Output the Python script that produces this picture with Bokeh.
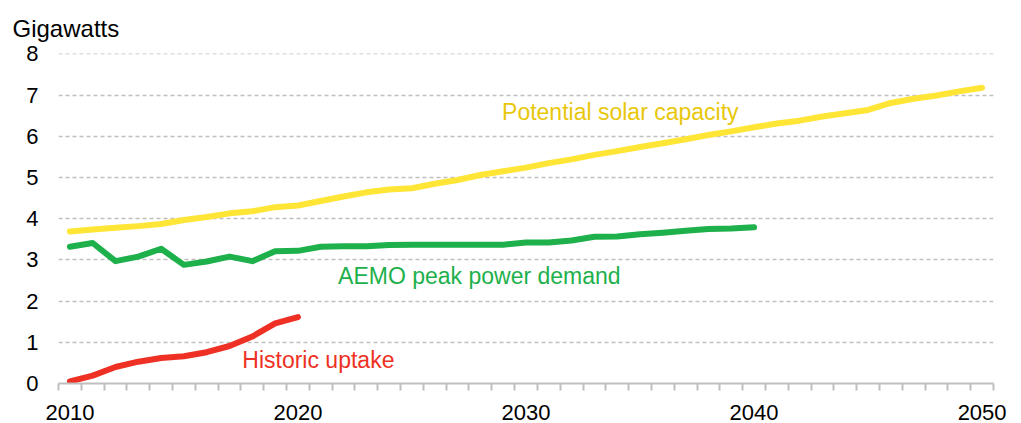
from bokeh.plotting import figure
from bokeh.models import FixedTicker, Range1d
from bokeh.core.properties import value
from bokeh.embed import file_html
from bokeh.resources import INLINE

years_solar = list(range(2010, 2051))
solar = [3.69, 3.74, 3.78, 3.82, 3.87, 3.97, 4.04, 4.13, 4.18, 4.28, 4.32,
         4.43, 4.54, 4.64, 4.71, 4.74, 4.85, 4.94, 5.06, 5.15, 5.24,
         5.35, 5.44, 5.55, 5.64, 5.74, 5.83, 5.93, 6.03, 6.12, 6.22,
         6.31, 6.38, 6.48, 6.56, 6.64, 6.81, 6.91, 6.99, 7.09, 7.18]

years_aemo = list(range(2010, 2041))
aemo = [3.32, 3.41, 2.97, 3.08, 3.27, 2.88, 2.96, 3.08, 2.97, 3.21, 3.22,
        3.32, 3.33, 3.33, 3.36, 3.37, 3.37, 3.37, 3.37, 3.37, 3.42,
        3.42, 3.47, 3.56, 3.57, 3.62, 3.66, 3.71, 3.75, 3.76, 3.79]

years_hist = list(range(2010, 2021))
hist = [0.05, 0.19, 0.40, 0.53, 0.62, 0.66, 0.76, 0.91, 1.14, 1.46, 1.61]

x_labels = [2010, 2020, 2030, 2040, 2050]
y_ticks = [0, 1, 2, 3, 4, 5, 6, 7, 8]

FONT = "Liberation Sans"
YELLOW = "#FFE535"
YELLOW_TXT = "#E8C70A"
GREEN = "#1DB04B"
RED = "#EE3124"
GRID = "#BFBFBF"

p = figure(width=1013, height=423, output_backend="svg", toolbar_location=None,
           x_range=Range1d(2009.5, 2050.5), y_range=Range1d(0, 8.01),
           min_border_left=58, min_border_right=20, min_border_top=53, min_border_bottom=40)
p.outline_line_color = None
p.background_fill_color = "white"
p.border_fill_color = "white"

p.title.text = "Gigawatts"
p.title.align = "left"
p.title.vertical_align = "top"
p.title.offset = -46
p.title.standoff = 19
p.title.text_font = FONT
p.title.text_font_size = "24px"
p.title.text_font_style = "normal"
p.title.text_color = "#000000"

# x axis
p.xaxis.ticker = FixedTicker(ticks=x_labels, minor_ticks=[y + 0.5 for y in range(2009, 2051)])
p.xaxis.axis_line_color = GRID
p.xaxis.axis_line_width = 2
p.xaxis.major_tick_line_color = None
p.xaxis.major_tick_out = 0
p.xaxis.major_tick_in = 0
p.xaxis.minor_tick_line_color = GRID
p.xaxis.minor_tick_line_width = 2
p.xaxis.minor_tick_out = 7
p.xaxis.minor_tick_in = 0
p.xaxis.major_label_standoff = 14
p.xaxis.major_label_text_font = FONT
p.xaxis.major_label_text_font_size = "22px"
p.xaxis.major_label_text_color = "#000000"

# y axis
p.yaxis.ticker = FixedTicker(ticks=y_ticks)
p.yaxis.axis_line_color = None
p.yaxis.major_tick_line_color = None
p.yaxis.minor_tick_line_color = None
p.yaxis.major_tick_out = 0
p.yaxis.major_tick_in = 0
p.yaxis.major_label_standoff = 20
p.yaxis.major_label_text_font = FONT
p.yaxis.major_label_text_font_size = "22px"
p.yaxis.major_label_text_color = "#000000"

p.xgrid.grid_line_color = None
p.ygrid.grid_line_color = GRID
p.ygrid.grid_line_dash = "4 3"
p.ygrid.grid_line_width = 1.5

# lines
p.line(years_solar, solar, line_color=YELLOW, line_width=6, line_cap="round", line_join="round")
p.line(years_aemo, aemo, line_color=GREEN, line_width=6, line_cap="round", line_join="round")
p.line(years_hist, hist, line_color=RED, line_width=6, line_cap="round", line_join="round")

# series labels
p.text(x=[2028.95], y=[6.60], text=["Potential solar capacity"], text_color=YELLOW_TXT,
       text_font=value(FONT), text_font_size="23px", text_baseline="alphabetic", text_align="left")
p.text(x=[2021.76], y=[2.62], text=["AEMO  peak power demand"], text_color=GREEN,
       text_font=value(FONT), text_font_size="23px", text_baseline="alphabetic", text_align="left")
p.text(x=[2017.56], y=[0.58], text=["Historic uptake"], text_color=RED,
       text_font=value(FONT), text_font_size="23px", text_baseline="alphabetic", text_align="left")

open("out.html", "w").write(file_html(p, INLINE))
